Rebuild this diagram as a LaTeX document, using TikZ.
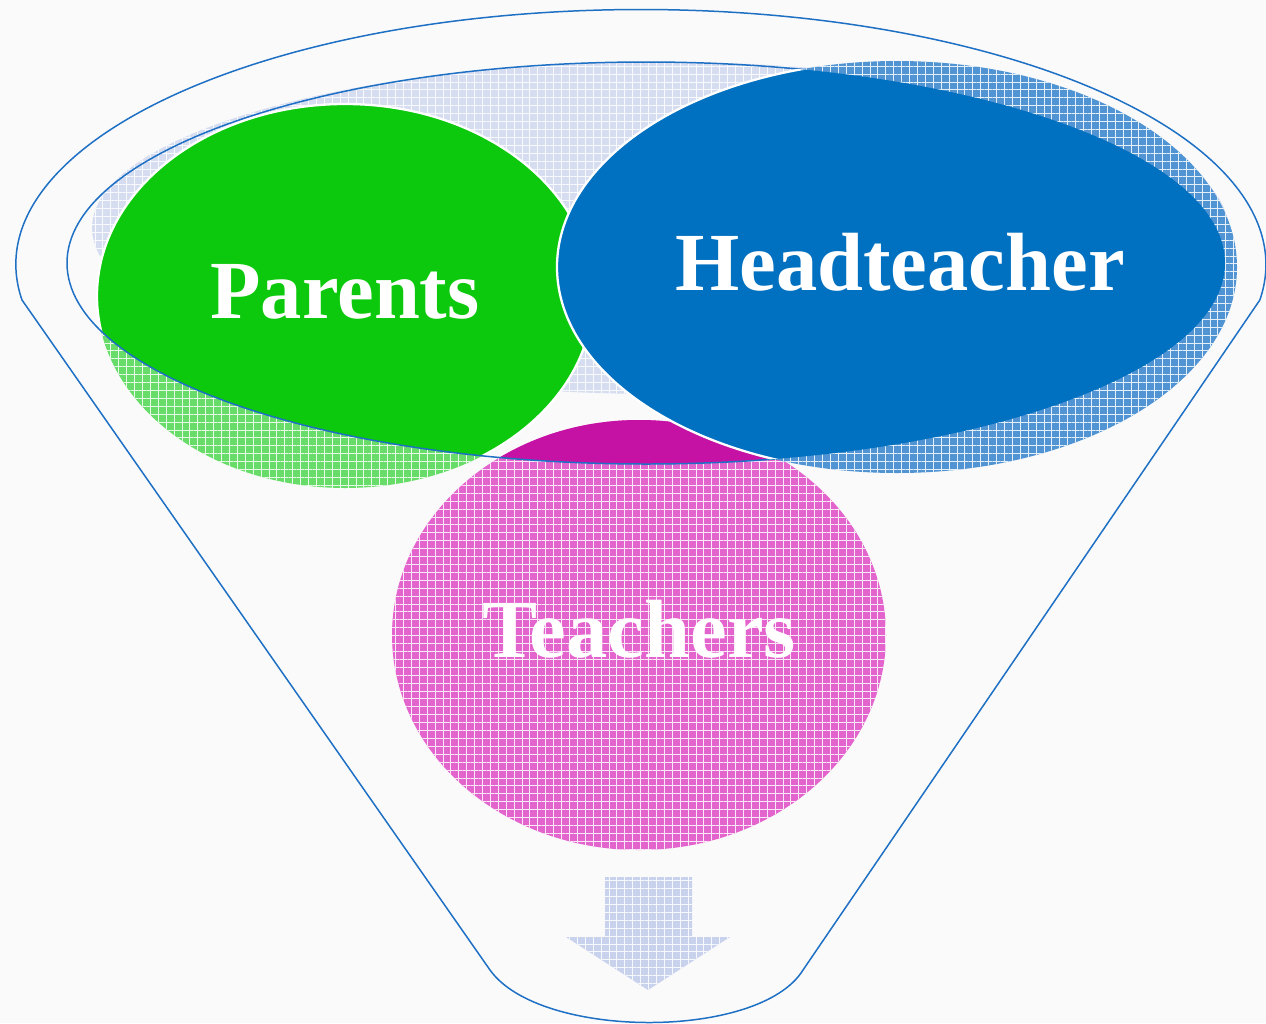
\documentclass[tikz,border=0pt]{standalone}
\usepackage{fontspec}
\setmainfont{Liberation Serif}
\usepackage{tikz}
\usetikzlibrary{patterns.meta}

\definecolor{paper}{RGB}{250,250,250}
\definecolor{rimblue}{RGB}{30,112,196}
\definecolor{bowl}{RGB}{214,221,241}
\definecolor{spout}{RGB}{200,210,236}
\definecolor{parentgreen}{RGB}{13,201,13}
\definecolor{parentgreenlt}{RGB}{104,220,104}
\definecolor{headblue}{RGB}{0,112,192}
\definecolor{headbluelt}{RGB}{80,148,212}
\definecolor{teachpink}{RGB}{197,18,165}
\definecolor{teachpinklt}{RGB}{228,100,206}

\begin{document}
\begin{tikzpicture}[
  x=0.2mm, y=-0.2mm,
  rim/.style={draw=rimblue, line width=0.85pt},
  meshfill/.style={preaction={fill=#1},
                   pattern={Hatch[angle=0, distance=4.5pt, line width=0.4pt]},
                   pattern color=white!85!#1},
  rimwhite/.style={draw=white, line width=1.3pt},
  lbl/.style={text=white, inner sep=0pt, anchor=base,
              font=\fontsize{47}{50}\selectfont\bfseries},
]
\useasboundingbox (0,0) rectangle (1266,1023);
\fill[paper] (0,0) rectangle (1266,1023);

% --- funnel: rim, straight walls, round spout ------------------------------
\draw[rim] (490,970) -- (22,300)
  arc[start angle=172, end angle=368, x radius=625, y radius=255]
  -- (803,970) .. controls (760,1040) and (540,1040) .. (490,970);

% the three groups sit at these centres
\coordinate (pc) at (345,296);
\coordinate (hc) at (897,267);
\coordinate (tc) at (639,635);
\coordinate (mouth) at (646,263);

% --- contents of the bowl ---------------------------------------------------
\fill[meshfill=bowl] (660,228) ellipse[x radius=568, y radius=166];
\fill[meshfill=teachpinklt] (tc) ellipse[x radius=247, y radius=215];
\fill[meshfill=parentgreenlt] (pc) ellipse[x radius=248, y radius=192];

% what lies inside the mouth is drawn solid
\begin{scope}
  \clip (mouth) ellipse[x radius=579, y radius=201];
  \fill[teachpink] (tc) ellipse[x radius=247, y radius=215];
  \fill[parentgreen] (pc) ellipse[x radius=248, y radius=192];
  \draw[rimwhite] (pc) ellipse[x radius=248, y radius=192];
\end{scope}
\draw[rim] (mouth) ellipse[x radius=579, y radius=201];

% head teacher bubble lies over the mouth line
\fill[meshfill=headbluelt] (hc) ellipse[x radius=340, y radius=206];
\begin{scope}
  \clip (mouth) ellipse[x radius=579, y radius=201];
  \fill[headblue] (hc) ellipse[x radius=340, y radius=206];
  \draw[rimwhite] (hc) ellipse[x radius=340, y radius=206];
\end{scope}

% --- outflow arrow ------------------------------------------------------------
\fill[meshfill=spout] (605,877) -- (692,877) -- (692,937) -- (730,937)
  -- (648,990) -- (566,937) -- (605,937) -- cycle;

% --- labels -------------------------------------------------------------------
\node[lbl] (parents) at (345,318) {Parents};
\node[lbl] (head) at (900,290) {Headteacher};
\node[lbl] (teachers) at (639,657) {Teachers};
\end{tikzpicture}
\end{document}
